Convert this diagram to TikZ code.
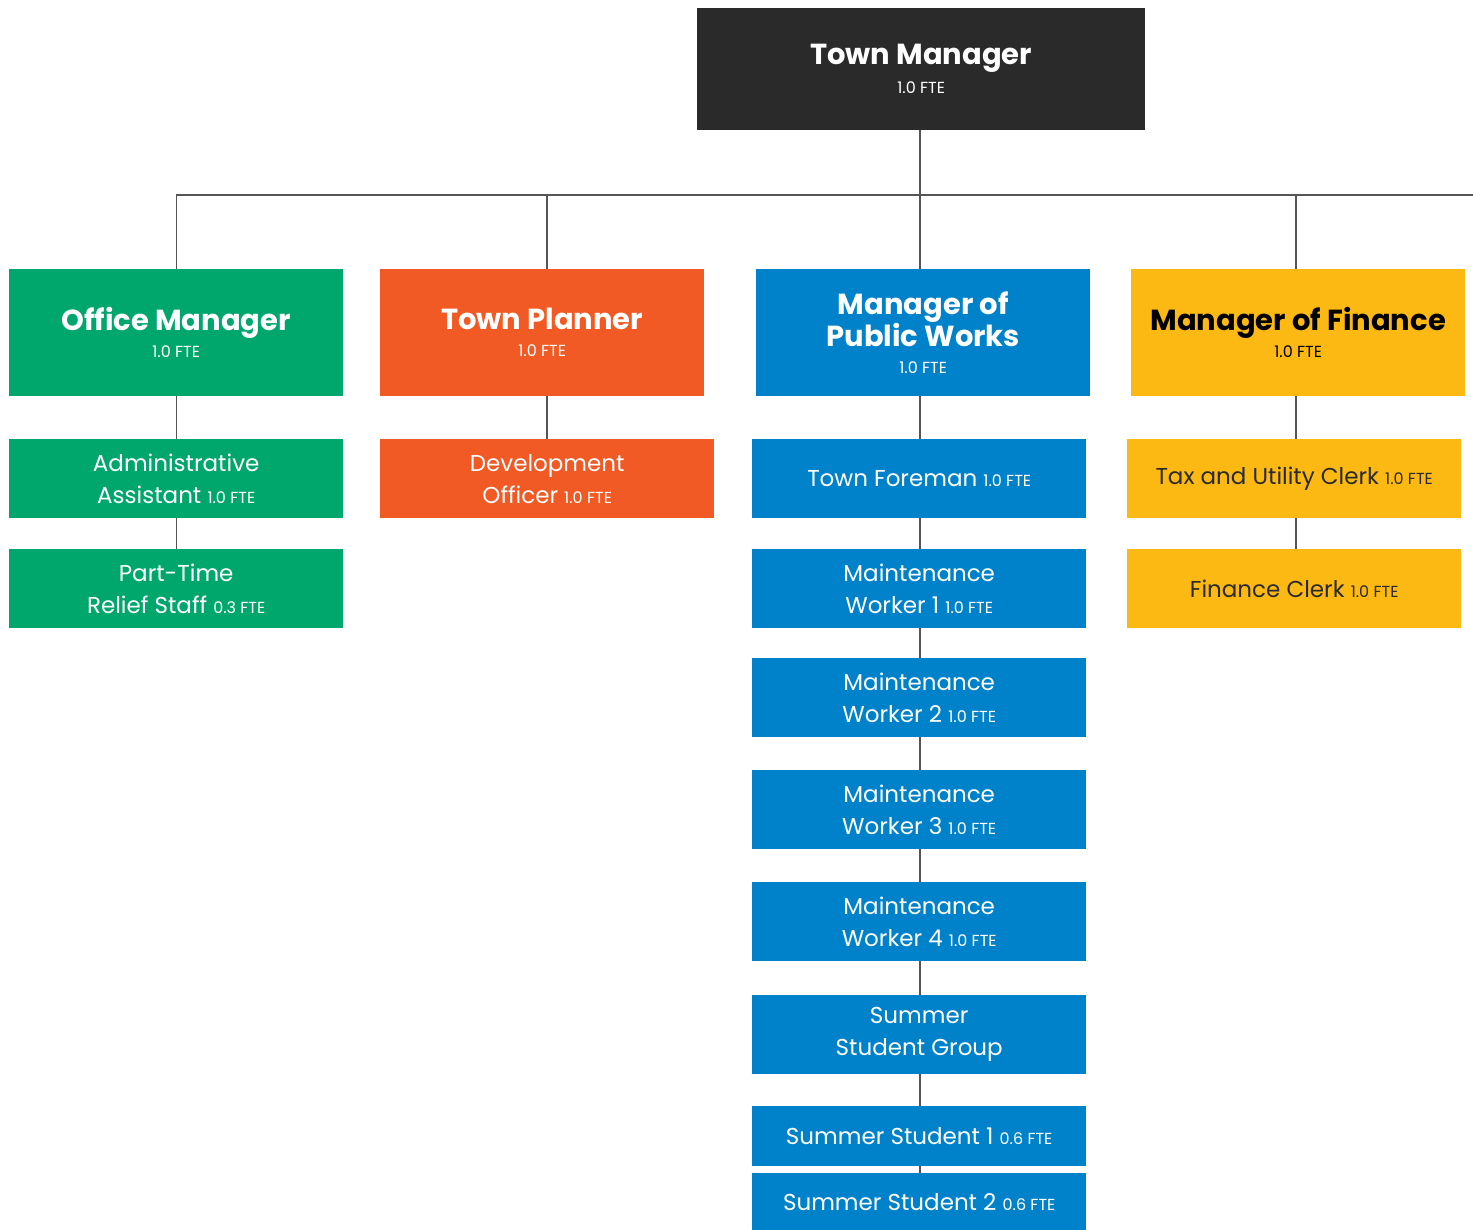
\documentclass[tikz,border=0pt]{standalone}
\usepackage{fontspec}
\setmainfont{Poppins}
\definecolor{cgreen}{HTML}{00A76D}
\definecolor{corange}{HTML}{F15A24}
\definecolor{cblue}{HTML}{0082CA}
\definecolor{cyellow}{HTML}{FDB913}
\definecolor{cdark}{HTML}{2A2A2A}
\definecolor{cline}{HTML}{555555}
\definecolor{ctext}{HTML}{2A2A2A}
\newcommand\fte[1]{{\mdseries\fontsize{16}{19}\selectfont #1}}
\begin{document}
\begin{tikzpicture}[x=1pt,y=-1pt,
  box/.style={rectangle, inner sep=0pt, anchor=north west, align=center, text=white},
  head/.style={box, minimum width=334pt, minimum height=127pt, font=\fontsize{29}{32}\selectfont\bfseries},
  sub/.style={box, minimum width=334pt, minimum height=79pt, font=\fontsize{23}{32}\selectfont},
  conn/.style={draw=cline, line width=1.4pt}]
\useasboundingbox (0,0) rectangle (1473,1230);
% top
\node[box, fill=cdark, minimum width=448pt, minimum height=122pt, font=\fontsize{29}{32}\selectfont\bfseries] (tm) at (697,8) {\raisebox{2pt}{Town Manager}\\[-5pt]\fte{1.0 FTE}};
% heads
\node[head, fill=cgreen] (om) at (9,269) {Office Manager\\[-5pt]\fte{1.0 FTE}};
\node[head, fill=corange, minimum width=324pt] (tp) at (380,269) {Town Planner\\[-5pt]\fte{1.0 FTE}};
\node[head, fill=cblue] (pw) at (756,269) {Manager of\\Public Works\\[-5pt]\fte{1.0 FTE}};
\node[head, fill=cyellow, text=black] (mf) at (1131,269) {Manager of Finance\\[-5pt]\fte{1.0 FTE}};
% green
\node[sub, fill=cgreen] (aa) at (9,439) {Administrative\\Assistant \fte{1.0 FTE}};
\node[sub, fill=cgreen] (pt) at (9,549) {Part-Time\\Relief Staff \fte{0.3 FTE}};
% orange
\node[sub, fill=corange] (do) at (380,439) {Development\\Officer \fte{1.0 FTE}};
% blue
\node[sub, fill=cblue] (tf) at (752,439) {Town Foreman \fte{1.0 FTE}};
\node[sub, fill=cblue] (m1) at (752,549) {Maintenance\\Worker 1 \fte{1.0 FTE}};
\node[sub, fill=cblue] (m2) at (752,658) {Maintenance\\Worker 2 \fte{1.0 FTE}};
\node[sub, fill=cblue] (m3) at (752,770) {Maintenance\\Worker 3 \fte{1.0 FTE}};
\node[sub, fill=cblue] (m4) at (752,882) {Maintenance\\Worker 4 \fte{1.0 FTE}};
\node[sub, fill=cblue] (sg) at (752,995) {Summer\\Student Group};
\node[sub, fill=cblue, minimum height=60pt] (s1) at (752,1106) {Summer Student 1 \fte{0.6 FTE}};
\node[sub, fill=cblue, minimum height=57pt] (s2) at (752,1173) {Summer Student 2 \fte{0.6 FTE}};
% yellow
\node[sub, fill=cyellow, text=ctext] (tu) at (1127,439) {Tax and Utility Clerk \fte{1.0 FTE}};
\node[sub, fill=cyellow, text=ctext] (fc) at (1127,549) {Finance Clerk \fte{1.0 FTE}};
% bus
\coordinate (busR) at (1473,195);
\coordinate (cT) at (920,195);
\coordinate (cP) at (547,195);
\coordinate (cF) at (1296,195);
\draw[conn] (tm.south -| cT) -- (cT);
\draw[conn] (om.north) -- (om.north |- busR) -- (busR);
\draw[conn] (cP) -- (tp.north -| cP);
\draw[conn] (cT) -- (pw.north -| cT);
\draw[conn] (cF) -- (mf.north -| cF);
% children
\draw[conn] (om.south) -- (aa.north);
\draw[conn] (aa.south) -- (pt.north);
\draw[conn] (tp.south -| cP) -- (do.north -| cP);
\draw[conn] (pw.south -| cT) -- (tf.north -| cT);
\draw[conn] (tf.south -| cT) -- (m1.north -| cT);
\draw[conn] (m1.south -| cT) -- (m2.north -| cT);
\draw[conn] (m2.south -| cT) -- (m3.north -| cT);
\draw[conn] (m3.south -| cT) -- (m4.north -| cT);
\draw[conn] (m4.south -| cT) -- (sg.north -| cT);
\draw[conn] (sg.south -| cT) -- (s1.north -| cT);
\draw[conn] (s1.south -| cT) -- (s2.north -| cT);
\draw[conn] (mf.south -| cF) -- (tu.north -| cF);
\draw[conn] (tu.south -| cF) -- (fc.north -| cF);
\end{tikzpicture}
\end{document}
